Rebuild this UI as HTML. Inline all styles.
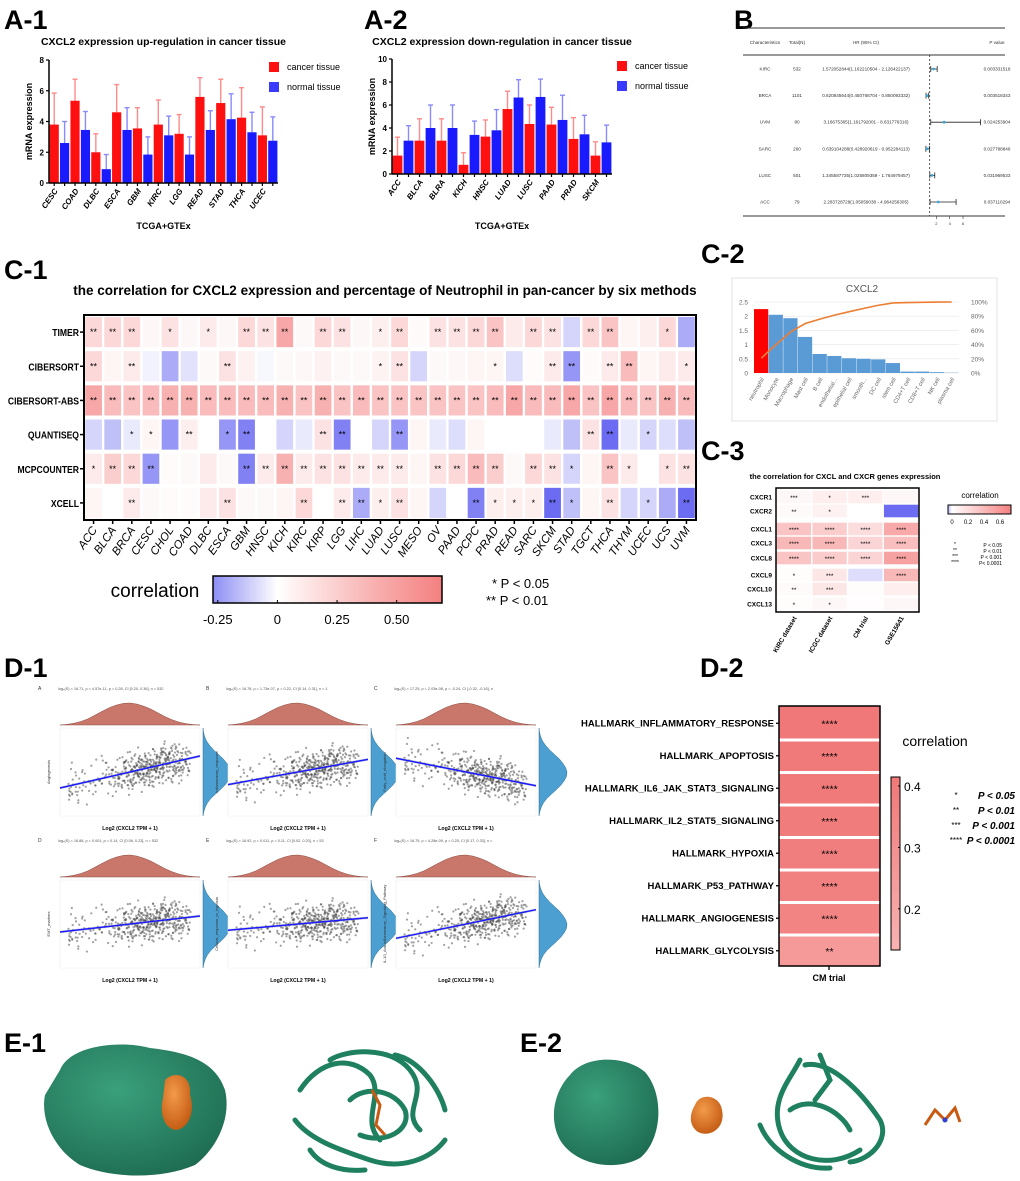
<!DOCTYPE html>
<html><head><meta charset="utf-8">
<style>
body{margin:0;background:#fff;}
svg{display:block;font-family:"Liberation Sans",Arial,sans-serif;}
.pl{font-size:27px;font-weight:bold;}
</style></head>
<body>
<svg id="fig" width="1020" height="1181" viewBox="0 0 1020 1181" xmlns="http://www.w3.org/2000/svg">
<text class="pl" x="4" y="29">A-1</text>
<text class="pl" x="364" y="29">A-2</text>
<text class="pl" x="734" y="29">B</text>
<text class="pl" x="4" y="279">C-1</text>
<text class="pl" x="701" y="263">C-2</text>
<text class="pl" x="701" y="460">C-3</text>
<text class="pl" x="4" y="677">D-1</text>
<text class="pl" x="700" y="677">D-2</text>
<text class="pl" x="4" y="1052">E-1</text>
<text class="pl" x="520" y="1052">E-2</text>
</svg>
<script>
// ---------- data ----------
const a1Cats=["CESC","COAD","DLBC","ESCA","GBM","KIRC","LGG","READ","STAD","THCA","UCEC"];
const a1Cancer=[3.8,5.35,2.0,4.6,3.55,3.8,3.2,5.6,5.2,4.25,3.1];
const a1CancerSD=[2.05,1.4,1.2,1.8,1.35,1.6,1.25,1.25,1.55,1.95,1.85];
const a1Normal=[2.6,3.45,0.9,3.45,1.85,3.1,1.85,3.45,4.15,3.3,2.75];
const a1NormalSD=[1.4,1.2,0.95,1.45,1.15,1.25,1.15,1.25,1.65,1.3,1.55];
const a1Ticks=[0,2,4,6,8];
const a2Cats=["ACC","BLCA","BLRA","KICH","HNSC","LUAD","LUSC","PAAD","PRAD","SKCM"];
const a2Cancer=[1.6,2.9,2.9,0.8,3.25,5.65,4.35,4.3,3.05,1.6];
const a2CancerSD=[1.6,1.9,1.9,1.05,1.45,1.55,1.65,1.5,1.85,1.2];
const a2Normal=[2.9,4.0,4.0,3.4,3.8,6.65,6.7,4.7,3.45,2.75];
const a2NormalSD=[1.3,2.0,2.0,1.2,1.8,1.55,1.55,2.15,1.65,1.5];
const a2Ticks=[0,2,4,6,8,10];

const fpNames=["KIRC","BRCA","UVM","SARC","LUSC","ACC"];
const fpTotal=["532","1101","80","260","501","79"];
const fpHR=[1.572,0.621,3.167,0.639,1.346,2.284];
const fpLo=[1.162,0.451,1.162,0.429,1.026,1.051];
const fpHi=[2.126,0.850,8.632,0.952,1.764,4.964];
const fpText=["1.572052844(1.162210504 - 2.126422137)","0.620845644(0.450768704 - 0.850093332)","3.16675365(1.161792001 - 8.631776316)","0.639104288(0.428920619 - 0.952284113)","1.345587735(1.025809359 - 1.764979457)","2.283728729(1.05059038 - 4.964256305)"];
const fpP=["0.003331518","0.003518343","0.024253904","0.027788846","0.031969533","0.037110294"];
const fpTicks=[2,4,6];

const hmCols=["ACC","BLCA","BRCA","CESC","CHOL","COAD","DLBC","ESCA","GBM","HNSC","KICH","KIRC","KIRP","LGG","LIHC","LUAD","LUSC","MESO","OV","PAAD","PCPC","PRAD","READ","SARC","SKCM","STAD","TGCT","THCA","THYM","UCEC","UCS","UVM"];
const hmRows=["TIMER","CIBERSORT","CIBERSORT-ABS","QUANTISEQ","MCPCOUNTER","XCELL"];
const hmTimer=[.2,.2,.2,.04,.15,.04,.1,.04,.2,.15,.45,.03,.2,.15,.04,.08,.2,.02,.15,.15,.2,.3,.1,.2,.15,-.1,.2,.3,.05,.08,.2,-.2];
const hmCiber=[.2,.05,.1,-.03,-.2,-.07,.03,.15,.07,-.02,.03,.04,.07,.03,.03,.06,.15,-.1,.03,.04,.05,.05,-.08,.02,.1,-.25,.02,.1,.35,.05,.1,.1];
const hmCiberAbs=[.45,.35,.3,.35,.4,.4,.35,.35,.35,.35,.4,.3,.4,.3,.35,.3,.3,.3,.3,.3,.3,.35,.45,.35,.35,.45,.3,.45,.35,.3,.4,.35];
const hmQuanti=[-.1,-.15,-.05,.05,-.25,.08,0,-.25,-.3,0,-.1,-.05,.15,-.3,0,-.1,-.25,.05,-.05,-.08,.05,0,0,0,-.05,-.15,.15,-.4,-.05,-.1,-.08,-.15];
const hmMcp=[.1,.25,.2,-.25,.02,.03,.1,.03,-.3,.1,.4,.1,.15,.15,.1,.1,.1,.05,.15,.2,.35,.25,.03,.2,.15,-.1,.05,.3,.1,0,.15,.15];
const hmXcell=[.05,0,.1,.03,.02,.02,.1,.15,.03,.03,.05,.2,0,.1,-.2,.08,.15,.05,-.1,0,-.3,.08,.08,.08,-.45,-.15,.05,.15,-.1,-.1,-.2,-.48];
const hmSigTimer="** ** ** - * - * - ** ** ** - ** ** - * ** - ** ** ** ** - ** ** - ** ** - - * -";
const hmSigCiber="** - ** - - - - ** - - - - - - - * ** - - - - * - - ** ** - ** ** - - *";
const hmSigAbs="** ** ** ** ** ** ** ** ** ** ** ** ** ** ** ** ** ** ** ** ** ** ** ** ** ** ** ** ** ** ** **";
const hmSigQuanti="- - * * - ** - * ** - - - ** ** - - ** - - - - - - - - - ** ** - * - -";
const hmSigMcp="* ** ** ** - - - - ** ** ** ** ** ** ** ** ** - ** ** ** ** - ** ** * - ** * - * **";
const hmSigXcell="- - ** - - - - ** - - - ** - ** ** * ** - - - ** * * * ** * - ** - * - **";
const hmScaleTicks=[-0.25,0,0.25,0.5];
const hmScaleLabels=["-0.25","0","0.25","0.50"];

const c2Cats=["neutrophil","Monocyte","Macrophage","Mast cell","B cell","endothelial...","epithelial cell","smooth...","DC cell","stem cell","CD4+T cell","CD8+T cell","NK cell","plasma cell"];
const c2Vals=[2.25,2.05,1.93,1.27,0.67,0.6,0.52,0.5,0.48,0.35,0.05,0.05,0.03,0.01];
const c2Ticks=[0,0.5,1,1.5,2,2.5];
const c2PctTicks=[0,20,40,60,80,100];

const c3Rows=["CXCR1","CXCR2","CXCL1","CXCL3","CXCL8","CXCL9","CXCL10","CXCL13"];
const c3Cols=["KIRC dataset","ICGC dataset","CM trial","GSE15641"];
const c3Vals=[[.05,.1,.1,.05],[.03,.08,0,-.45],[.35,.3,.2,.5],[.42,.42,.25,.38],[.35,.3,.25,.55],[.02,.15,-.1,.42],[.03,.15,.02,.1],[.02,.05,.01,.05]];
const c3Sig=[["***","*","***",""],["**","*","",""],["****","****","****","****"],["****","****","****","****"],["****","****","****","****"],["*","***","","****"],["**","***","",""],["*","*","",""]];

const d2Rows=["HALLMARK_INFLAMMATORY_RESPONSE","HALLMARK_APOPTOSIS","HALLMARK_IL6_JAK_STAT3_SIGNALING","HALLMARK_IL2_STAT5_SIGNALING","HALLMARK_HYPOXIA","HALLMARK_P53_PATHWAY","HALLMARK_ANGIOGENESIS","HALLMARK_GLYCOLYSIS"];
const d2Vals=[.42,.41,.41,.40,.39,.38,.36,.26];
const d2Sig=["****","****","****","****","****","****","****","**"];
const d2Ticks=[0.2,0.3,0.4];

const d1Titles=["Angiogenesis","Inflammatory_response","Fatty_acid_elongation","EMT_markers","Cellular_response_to_hypoxia","IL-10_Anti-inflammatory_Signaling_Pathway"];
const d1Letters=["A","B","C","D","E","F"];
const d1Slopes=[.28,.22,-.24,.14,.11,.25];
const d1Stats=["log\u2091(S) = 16.71, p = 4.57e-11, \u03c1 = 0.28, CI [0.20, 0.36], n = 532","log\u2091(S) = 16.78, p = 1.73e-07, \u03c1 = 0.22, CI [0.14, 0.31], n = 1","log\u2091(S) = 17.25, p = 2.03e-08, \u03c1 = -0.24, CI [-0.32, -0.16], n","log\u2091(S) = 16.88, p = 0.001, \u03c1 = 0.14, CI [0.06, 0.23], n = 532","log\u2091(S) = 16.92, p = 0.011, \u03c1 = 0.11, CI [0.02, 0.20], n = 53","log\u2091(S) = 16.75, p = 4.28e-09, \u03c1 = 0.25, CI [0.17, 0.33], n ="];
const d1X=[.12,.55,.48,.33,.71,.62,.4,.25,.81,.52,.45,.58,.3,.66,.5,.38,.74,.2,.57,.43,.61,.35,.69,.47,.54,.28,.77,.42,.64,.51,.36,.59,.46,.7,.22,.53,.4,.66,.31,.49,.58,.44,.63,.37,.56,.72,.27,.5,.6,.41,.85,.08,.9,.15,.45,.55,.35,.65,.52,.48];
const d1Res=[.1,-.3,.5,-.1,.2,-.6,.35,.05,-.2,.7,-.45,.15,-.05,.4,-.8,.25,-.15,.55,-.35,.0,.3,-.25,.6,-.5,.12,-.7,.45,-.02,.2,-.4,.8,-.12,.38,-.6,.22,-.18,.05,.5,-.3,.65,-.55,.28,-.08,.42,-.22,.1,-.9,.33,-.38,.18,-.04,.75,-.65,.9,-.28,.48,-.1,.14,-.48,.02];
const d1Dens=[0,.03,.08,.16,.28,.45,.62,.78,.9,.98,1,.95,.85,.72,.55,.38,.24,.13,.06,.02,0];

// ---------- helpers ----------
const NS="http://www.w3.org/2000/svg";
const svg=document.getElementById("fig");
function el(tag,attrs,parent){const e=document.createElementNS(NS,tag);for(const k in attrs)e.setAttribute(k,attrs[k]);(parent||svg).appendChild(e);return e;}
function tx(x,y,s,attrs,parent){const e=el("text",Object.assign({x:x,y:y},attrs||{}),parent);e.textContent=s;return e;}
function grp(name){const g=el("g",{});return g;}
function mix(a,b,t){return "rgb("+a.map((v,i)=>Math.round(v+(b[i]-v)*t)).join(",")+")";}
function corrColor(v,negMax,posMax){v=Math.max(-negMax,Math.min(posMax,v));if(v<0)return mix([255,255,255],[108,108,242],-v/negMax);return mix([255,255,255],[244,128,128],v/posMax);}

// ---------- A bar charts ----------
function barChart(name,o){
  const g=grp(name);
  const ys=v=>o.y0-(v/o.ymax)*(o.y0-o.yTop);
  tx((o.x0+o.x1)/2,o.titleY,o.title,{"font-size":"10.5","font-weight":"bold","text-anchor":"middle"},g);
  const yl=tx(0,0,"mRNA expression",{"font-size":"9","font-weight":"bold","text-anchor":"middle",transform:"translate("+(o.x0-17)+","+((o.y0+o.yTop)/2)+") rotate(-90)"},g);
  
  o.ticks.forEach(t=>{el("line",{x1:o.x0-3,x2:o.x0,y1:ys(t),y2:ys(t),stroke:"#000","stroke-width":1.2},g);tx(o.x0-5,ys(t)+3,String(t),{"font-size":"8","font-weight":"bold","text-anchor":"end"},g);});
  const pitch=(o.x1-o.x0)/(o.cats.length*2);
  o.cats.forEach((c,i)=>{
    [[o.cancer[i],o.cSD[i],"#ff1010","#ff8a8a"],[o.normal[i],o.nSD[i],"#1a1aff","#8a8aff"]].forEach((s,k)=>{
      const x=o.x0+(2*i+k)*pitch+0.6, w=pitch-1.2, cx=x+w/2;
      el("line",{x1:cx,x2:cx,y1:ys(s[0]),y2:ys(s[0]+s[1]),stroke:s[3],"stroke-width":1.4},g);
      el("line",{x1:cx-2.5,x2:cx+2.5,y1:ys(s[0]+s[1]),y2:ys(s[0]+s[1]),stroke:s[3],"stroke-width":1.4},g);
      const r=el("rect",{x:x,y:ys(s[0]),width:w,height:o.y0-ys(s[0]),fill:s[2]},g);
      
      
      el("line",{x1:cx,x2:cx,y1:o.y0,y2:o.y0+3,stroke:"#000","stroke-width":1.2},g);
    });
    const lx=o.x0+(2*i+0.5)*pitch+4;
    tx(0,0,c,{"font-size":"8","font-weight":"bold","font-style":"italic","text-anchor":"end",transform:"translate("+lx+","+(o.y0+8)+") rotate(-55)"},g);
  });
  el("line",{x1:o.x0,x2:o.x0,y1:o.yTop,y2:o.y0,stroke:"#000","stroke-width":1.5},g);
  el("line",{x1:o.x0,x2:o.x1,y1:o.y0,y2:o.y0,stroke:"#000","stroke-width":1.5},g);
  tx((o.x0+o.x1)/2,o.xtY,"TCGA+GTEx",{"font-size":"9","font-weight":"bold","text-anchor":"middle"},g);
  const lg=grp("legend");g.appendChild(lg);
  el("rect",{x:o.lx,y:o.ly,width:10,height:10,fill:"#ff1010"},lg);
  tx(o.lx+18,o.ly+8,"cancer tissue",{"font-size":"9"},lg);
  el("rect",{x:o.lx,y:o.ly+20,width:10,height:10,fill:"#3a3aff"},lg);
  tx(o.lx+18,o.ly+28,"normal tissue",{"font-size":"9"},lg);
}
barChart("chart-a1",{x0:49,x1:278,y0:183,yTop:60,ymax:8,ticks:a1Ticks,cats:a1Cats,cancer:a1Cancer,cSD:a1CancerSD,normal:a1Normal,nSD:a1NormalSD,title:"CXCL2 expression up-regulation in cancer tissue",titleY:45,xtY:229,lx:269,ly:62});
barChart("chart-a2",{x0:392,x1:612,y0:174,yTop:59,ymax:10,ticks:a2Ticks,cats:a2Cats,cancer:a2Cancer,cSD:a2CancerSD,normal:a2Normal,nSD:a2NormalSD,title:"CXCL2 expression down-regulation in cancer tissue",titleY:45,xtY:229,lx:617,ly:61});

// ---------- B forest ----------
(function(){
  const g=grp("forest-plot-b");
  const hx=v=>923+6.67*v;
  el("line",{x1:743,x2:1005,y1:28,y2:28,stroke:"#333","stroke-width":1},g);
  el("line",{x1:743,x2:1005,y1:55,y2:55,stroke:"#333","stroke-width":1},g);
  el("line",{x1:743,x2:1005,y1:216,y2:216,stroke:"#333","stroke-width":1},g);
  const fs={"font-size":"4.6","text-anchor":"middle",fill:"#333"};
  tx(765,44,"Characteristics",fs,g);tx(797,44,"Total(N)",fs,g);tx(866,44,"HR (95% CI)",fs,g);tx(997,44,"P value",fs,g);
  el("line",{x1:hx(1),x2:hx(1),y1:55,y2:216,stroke:"#333","stroke-width":0.8,"stroke-dasharray":"2,2"},g);
  fpNames.forEach((n,i)=>{
    const y=69+i*26.6;
    tx(765,y+1.5,n,fs,g);tx(797,y+1.5,fpTotal[i],fs,g);tx(866,y+1.5,fpText[i],fs,g);tx(997,y+1.5,fpP[i],fs,g);
    el("line",{x1:hx(fpLo[i]),x2:hx(fpHi[i]),y1:y,y2:y,stroke:"#222","stroke-width":0.8},g);
    el("line",{x1:hx(fpLo[i]),x2:hx(fpLo[i]),y1:y-3,y2:y+3,stroke:"#222","stroke-width":0.8},g);
    el("line",{x1:hx(fpHi[i]),x2:hx(fpHi[i]),y1:y-3,y2:y+3,stroke:"#222","stroke-width":0.8},g);
    const p=el("circle",{cx:hx(fpHR[i]),cy:y,r:1.4,fill:"#3aa6d8"},g);
    
    
  });
  fpTicks.forEach(t=>{el("line",{x1:hx(t),x2:hx(t),y1:216,y2:219,stroke:"#333","stroke-width":0.6},g);tx(hx(t),225,String(t),{"font-size":"4","text-anchor":"middle",fill:"#333"},g);});
})();

// ---------- C-1 heatmap ----------
(function(){
  const g=grp("heatmap-c1");
  tx(385,295,"the correlation for CXCL2 expression and percentage of Neutrophil in pan-cancer by six methods",{"font-size":"13.5","font-weight":"bold","text-anchor":"middle"},g);
  const X0=84,X1=696,Y0=315,Y1=520;
  const cw=(X1-X0)/hmCols.length, rh=(Y1-Y0)/hmRows.length;
  const vals=[hmTimer,hmCiber,hmCiberAbs,hmQuanti,hmMcp,hmXcell];
  const sigs=[hmSigTimer,hmSigCiber,hmSigAbs,hmSigQuanti,hmSigMcp,hmSigXcell].map(s=>s.split(" "));
  hmRows.forEach((r,ri)=>{
    const cy=Y0+ri*rh;
    tx(0,0,r,{"font-size":"10","font-weight":"bold","text-anchor":"end",transform:"translate("+(X0-5)+","+(cy+rh/2+4)+") scale(0.86,1)"},g);
    el("line",{x1:X0-4,x2:X0,y1:cy+rh/2,y2:cy+rh/2,stroke:"#000","stroke-width":1.5},g);
    hmCols.forEach((c,ci)=>{
      const x=X0+ci*cw;
      const cell=el("rect",{x:x+1.2,y:cy+2,width:cw-2.4,height:rh-4,fill:corrColor(vals[ri][ci],0.35,0.65)},g);
      
      
      const s=sigs[ri][ci];
      if(s&&s!=="-")tx(x+cw/2,cy+rh/2+3,s,{"font-size":"9","text-anchor":"middle"},g);
    });
  });
  el("rect",{x:X0,y:Y0,width:X1-X0,height:Y1-Y0,fill:"none",stroke:"#000","stroke-width":2},g);
  hmCols.forEach((c,ci)=>{
    const x=X0+(ci+0.5)*cw;
    el("line",{x1:x,x2:x,y1:Y1,y2:Y1+4,stroke:"#000","stroke-width":1.5},g);
    tx(0,0,c,{"font-size":"11.5","font-style":"italic","text-anchor":"end",transform:"translate("+(x+4)+","+(Y1+10)+") rotate(-55)"},g);
  });
  const cb=grp("colorbar-c1");g.appendChild(cb);
  const lo=-0.27,hi=0.69,bx0=213,bx1=442,bx=v=>bx0+(v-lo)/(hi-lo)*(bx1-bx0);
  const defs=el("defs",{},cb);
  const lg=el("linearGradient",{id:"gC1",x1:"0",x2:"1",y1:"0",y2:"0"},defs);
  [lo,-0.1,0,0.2,0.4,hi].forEach(v=>el("stop",{offset:((v-lo)/(hi-lo)),"stop-color":corrColor(v,0.35,0.65)},lg));
  el("rect",{x:bx0,y:576,width:bx1-bx0,height:27,fill:"url(#gC1)",stroke:"#000","stroke-width":1.5},cb);
  hmScaleTicks.forEach((t,i)=>{el("line",{x1:bx(t),x2:bx(t),y1:600,y2:603,stroke:"#000"},cb);tx(bx(t),624,hmScaleLabels[i],{"font-size":"13","text-anchor":"middle"},cb);});
  tx(155,597,"correlation",{"font-size":"19","text-anchor":"middle"},cb);
  tx(492,588,"*  P < 0.05",{"font-size":"13"},g);
  tx(486,605,"**  P < 0.01",{"font-size":"13"},g);
})();

// ---------- C-2 pareto ----------
(function(){
  const g=grp("pareto-c2");
  el("rect",{x:732,y:278,width:265,height:143,fill:"#fff",stroke:"#ddd","stroke-width":0.8},g);
  tx(862,292,"CXCL2",{"font-size":"10","text-anchor":"middle",fill:"#555"},g);
  const X0=754,X1=959,Y0=373,YT=302;
  const ys=v=>Y0-(v/2.5)*(Y0-YT), yp=p=>Y0-(p/100)*(Y0-YT);
  c2Ticks.forEach(t=>{el("line",{x1:X0,x2:X1,y1:ys(t),y2:ys(t),stroke:"#e6e6e6","stroke-width":0.6},g);tx(X0-6,ys(t)+2.5,String(t),{"font-size":"6.5","text-anchor":"end",fill:"#666"},g);});
  c2PctTicks.forEach(t=>tx(X1+12,yp(t)+2.5,t+"%",{"font-size":"6.5",fill:"#666"},g));
  const bw=(X1-X0)/c2Vals.length;
  const total=c2Vals.reduce((a,b)=>a+b,0);let cum=0;const pts=[];
  c2Vals.forEach((v,i)=>{
    const b=el("rect",{x:X0+i*bw,y:ys(v),width:bw-0.4,height:Y0-ys(v),fill:i===0?"#ff0000":"#5b9bd5"},g);
    
    
    cum+=v;pts.push((X0+(i+0.5)*bw)+","+yp(cum/total*100));
    tx(0,0,c2Cats[i],{"font-size":"5.8","text-anchor":"end",fill:"#666",transform:"translate("+(X0+(i+0.5)*bw+3)+","+(Y0+6)+") rotate(-60)"},g);
  });
  const ln=el("polyline",{points:pts.join(" "),fill:"none",stroke:"#ed7d31","stroke-width":1.6},g);
  
  
})();

// ---------- C-3 heatmap ----------
(function(){
  const g=grp("heatmap-c3");
  tx(845,479,"the correlation for CXCL and CXCR genes expression",{"font-size":"7.5","font-weight":"bold","text-anchor":"middle"},g);
  const X0=776,X1=919,cw=(X1-X0)/4;
  const rowY=[497,511,529,543,558,575,589,604], rh=14;
  c3Rows.forEach((r,ri)=>{
    const cy=rowY[ri];
    tx(X0-4,cy+2.5,r,{"font-size":"6.5","font-weight":"bold","text-anchor":"end"},g);
    c3Cols.forEach((c,ci)=>{
      const cell=el("rect",{x:X0+ci*cw+0.7,y:cy-rh/2+0.7,width:cw-1.4,height:rh-1.4,fill:corrColor(c3Vals[ri][ci],0.45,0.75)},g);
      
      
      if(c3Sig[ri][ci])tx(X0+(ci+0.5)*cw,cy+3,c3Sig[ri][ci],{"font-size":"6.5","text-anchor":"middle"},g);
    });
  });
  el("rect",{x:X0,y:488,width:X1-X0,height:124,fill:"none",stroke:"#000","stroke-width":1.5},g);
  c3Cols.forEach((c,ci)=>tx(0,0,c,{"font-size":"6.5","font-weight":"bold","text-anchor":"end",transform:"translate("+(X0+(ci+0.5)*cw+3)+","+618+") rotate(-60)"},g));
  tx(980,498,"correlation",{"font-size":"8","text-anchor":"middle"},g);
  const defs=el("defs",{},g);
  const lg=el("linearGradient",{id:"gC3",x1:"0",x2:"1",y1:"0",y2:"0"},defs);
  [-0.05,0,0.3,0.75].forEach((v,i)=>el("stop",{offset:(v+0.05)/0.8,"stop-color":corrColor(v,0.1,0.75)},lg));
  el("rect",{x:948,y:505,width:63,height:9,fill:"url(#gC3)",stroke:"#000","stroke-width":1},g);
  ["0","0.2","0.4","0.6"].forEach((t,i)=>tx(952+i*16,524,t,{"font-size":"6","text-anchor":"middle"},g));
  ["*","**","***","****"].forEach((s,i)=>{tx(955,546+i*6,s,{"font-size":"5","text-anchor":"middle"},g);tx(1002,547+i*6,["P < 0.05","P < 0.01","P < 0.001","P< 0.0001"][i],{"font-size":"5","text-anchor":"end"},g);});
})();

// ---------- D-1 scatter panels ----------
(function(){
  const colX=[60,228,396], rowY=[728,880];
  d1Letters.forEach((L,i)=>{
    const g=grp("scatter-panel-"+L.toLowerCase());
    const x0=colX[i%3], y0=rowY[Math.floor(i/3)], W=140, H=88;
    tx(x0-22,y0-38,L,{"font-size":"5",fill:"#333"},g);
    tx(x0-2,y0-38,d1Stats[i],{"font-size":"3.8",fill:"#555"},g);
    const dp=d1Dens.map((d,k)=>(x0+k*W/(d1Dens.length-1))+","+(y0-3-d*22)).join(" ");
    el("polygon",{points:x0+","+(y0-3)+" "+dp+" "+(x0+W)+","+(y0-3),fill:"#c9776a",stroke:"#8a4a40","stroke-width":0.5},g);
    const sp=d1Dens.map((d,k)=>(x0+W+3+d*28)+","+(y0+H-k*H/(d1Dens.length-1))).join(" ");
    el("polygon",{points:(x0+W+3)+","+(y0+H)+" "+sp+" "+(x0+W+3)+","+y0,fill:"#4b9fd1",stroke:"#2a6d96","stroke-width":0.5},g);
    el("rect",{x:x0,y:y0,width:W,height:H,fill:"#fff",stroke:"#eee","stroke-width":0.5},g);
    const s=d1Slopes[i];
    const ymap=(px,res)=>y0+H*(0.5-s*1.3*(px-0.5)+res*0.26);
    for(let k=0;k<8;k++){
      d1X.forEach((px,j)=>{
        const res=d1Res[(j+k*7)%d1Res.length]*(k%2?0.8:1.1);
        const xx=x0+W*(0.06+0.88*((px+k*0.053)%1));
        el("circle",{cx:xx,cy:Math.max(y0+2,Math.min(y0+H-2,ymap((xx-x0)/W,res))),r:1.1,fill:"#444","fill-opacity":0.5},g);
      });
    }
    el("polygon",{points:x0+","+(ymap(0,-0.06))+" "+(x0+W)+","+(ymap(1,-0.06))+" "+(x0+W)+","+(ymap(1,0.06))+" "+x0+","+(ymap(0,0.06)),fill:"#999","fill-opacity":0.35},g);
    const rl=el("line",{x1:x0,y1:ymap(0,0),x2:x0+W,y2:ymap(1,0),stroke:"#1a1aff","stroke-width":1.5},g);
    
    
    tx(0,0,d1Titles[i],{"font-size":"4","text-anchor":"middle",fill:"#333",transform:"translate("+(x0-10)+","+(y0+H/2)+") rotate(-90)"},g);
    tx(x0+W/2,y0+H+14,"Log2 (CXCL2 TPM + 1)",{"font-size":"5.2","font-weight":"bold","text-anchor":"middle"},g);
  });
})();

// ---------- D-2 heatmap ----------
(function(){
  const g=grp("heatmap-d2");
  const X0=779,X1=880,Y0=706,Y1=966,rh=(Y1-Y0)/d2Rows.length;
  const col=v=>mix([248,178,178],[240,120,120],(v-0.14)/0.28);
  d2Rows.forEach((r,i)=>{
    const y=Y0+i*rh;
    const c=el("rect",{x:X0,y:y+(i?3:0),width:X1-X0,height:rh-(i?3:0),fill:col(d2Vals[i])},g);
    
    
    tx((X0+X1)/2,y+rh/2+5,d2Sig[i],{"font-size":"10.5","text-anchor":"middle"},g);
    tx(X0-5,y+rh/2+4,r,{"font-size":"9.5","font-weight":"bold","text-anchor":"end"},g);
    el("line",{x1:X0-3,x2:X0,y1:y+rh/2+1,y2:y+rh/2+1,stroke:"#000","stroke-width":1.3},g);
  });
  el("rect",{x:X0,y:Y0,width:X1-X0,height:Y1-Y0,fill:"none",stroke:"#000","stroke-width":1.5},g);
  el("line",{x1:829,x2:829,y1:Y1,y2:Y1+4,stroke:"#000","stroke-width":1.3},g);
  tx(829,981,"CM trial",{"font-size":"9","font-weight":"bold","text-anchor":"middle"},g);
  tx(935,746,"correlation",{"font-size":"14","text-anchor":"middle"},g);
  const defs=el("defs",{},g);
  const lg=el("linearGradient",{id:"gD2",x1:"0",x2:"0",y1:"1",y2:"0"},defs);
  el("stop",{offset:0,"stop-color":col(0.14)},lg);el("stop",{offset:1,"stop-color":col(0.42)},lg);
  el("rect",{x:891,y:777,width:9,height:173,fill:"url(#gD2)",stroke:"#000","stroke-width":1},g);
  const ty=v=>786+(0.4-v)*614;
  d2Ticks.forEach(t=>{el("line",{x1:898,x2:900,y1:ty(t),y2:ty(t),stroke:"#000"},g);tx(904,ty(t)+5,t.toFixed(1),{"font-size":"12"},g);});
  ["*","**","***","****"].forEach((s,i)=>{tx(956,798+i*15,s,{"font-size":"8","text-anchor":"middle"},g);tx(1015,799+i*15,["P < 0.05","P < 0.01","P < 0.001","P < 0.0001"][i],{"font-size":"10","font-weight":"bold","font-style":"italic","text-anchor":"end"},g);});
})();

// ---------- E protein renderings ----------
(function(){
  const g=grp("protein-structures");
  const defs=el("defs",{},g);
  const rg=el("radialGradient",{id:"gSurf",cx:"0.4",cy:"0.35",r:"0.7"},defs);
  el("stop",{offset:0,"stop-color":"#3aa07c"},rg);el("stop",{offset:1,"stop-color":"#1e6d52"},rg);
  const rg2=el("radialGradient",{id:"gOr",cx:"0.4",cy:"0.35",r:"0.7"},defs);
  el("stop",{offset:0,"stop-color":"#f39a4a"},rg2);el("stop",{offset:1,"stop-color":"#c25a12"},rg2);
  const s1=el("path",{d:"M60,1070 C70,1045 120,1040 150,1048 C185,1052 215,1060 225,1090 C232,1120 215,1150 195,1165 C160,1180 110,1178 80,1165 C55,1150 40,1120 45,1095 Z",fill:"url(#gSurf)"},g);
  
  
  el("path",{d:"M165,1080 C175,1070 192,1075 190,1095 C195,1110 190,1128 176,1130 C162,1128 160,1110 163,1098 Z",fill:"url(#gOr)"},g);
  const rb=el("g",{fill:"none",stroke:"#1f8060","stroke-width":"5","stroke-linecap":"round"},g);
  ["M300,1090 C320,1060 350,1055 370,1075 C385,1095 360,1120 380,1140","M330,1060 C345,1050 390,1045 410,1070 C430,1095 400,1110 420,1130","M295,1120 C310,1140 340,1150 370,1160 C400,1170 430,1160 445,1140","M350,1100 C365,1085 395,1090 405,1110 C412,1130 385,1145 360,1135","M395,1055 C420,1060 440,1090 445,1110","M310,1150 C320,1165 340,1172 365,1170"].forEach(d=>el("path",{d:d},rb));
  el("path",{d:"M372,1090 L380,1105 L376,1125 L385,1135",fill:"none",stroke:"#c85a12","stroke-width":3},g);
  const s2=el("path",{d:"M570,1075 C585,1055 625,1055 645,1072 C665,1095 662,1140 640,1158 C615,1172 575,1165 560,1140 C548,1118 555,1090 570,1075 Z",fill:"url(#gSurf)"},g);
  
  
  el("path",{d:"M695,1105 C700,1092 720,1095 722,1110 C726,1128 710,1138 698,1132 C688,1125 690,1113 695,1105 Z",fill:"url(#gOr)"},g);
  const rb2=el("g",{fill:"none",stroke:"#1f8060","stroke-width":"5","stroke-linecap":"round"},g);
  ["M800,1060 C790,1080 770,1100 780,1130 C790,1160 830,1170 860,1150","M805,1065 C830,1060 860,1090 880,1120 C890,1140 870,1160 850,1162","M790,1110 C810,1095 840,1110 850,1130","M820,1055 L830,1080 L815,1100","M760,1125 C770,1150 800,1170 830,1168"].forEach(d=>el("path",{d:d},rb2));
  el("path",{d:"M925,1125 L935,1110 L945,1120 L955,1108 L960,1122",fill:"none",stroke:"#c85a12","stroke-width":3},g);
  el("circle",{cx:945,cy:1120,r:2.5,fill:"#3040d0"},g);
})();
</script>
</body></html>
